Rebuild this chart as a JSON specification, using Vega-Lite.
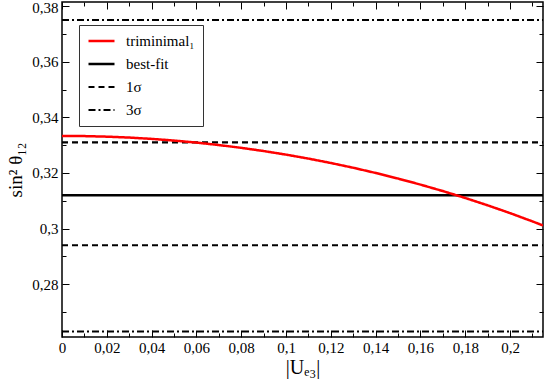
{
  "$schema": "https://vega.github.io/schema/vega-lite/v6.json",
  "width": 481,
  "height": 335,
  "autosize": {"type": "none"},
  "padding": {"left": 62, "top": 2, "right": 2, "bottom": 45},
  "background": "white",
  "config": {
    "font": "Liberation Serif",
    "view": {"stroke": "black", "strokeWidth": 1.5},
    "axis": {
      "grid": false,
      "domain": false,
      "tickColor": "black",
      "tickWidth": 1,
      "labelFont": "Liberation Serif",
      "labelFontSize": 15,
      "labelColor": "black",
      "titleFont": "Liberation Serif",
      "titleFontWeight": "normal",
      "titleColor": "black"
    }
  },
  "data": {
    "values": [
      {"series": "best-fit", "grp": "bf", "u": 0, "s": 0.312},
      {"series": "best-fit", "grp": "bf", "u": 0.2147, "s": 0.312},
      {"series": "1σ", "grp": "1a", "u": 0, "s": 0.331},
      {"series": "1σ", "grp": "1a", "u": 0.2147, "s": 0.331},
      {"series": "1σ", "grp": "1b", "u": 0, "s": 0.294},
      {"series": "1σ", "grp": "1b", "u": 0.2147, "s": 0.294},
      {"series": "3σ", "grp": "3a", "u": 0, "s": 0.375},
      {"series": "3σ", "grp": "3a", "u": 0.2147, "s": 0.375},
      {"series": "3σ", "grp": "3b", "u": 0, "s": 0.263},
      {"series": "3σ", "grp": "3b", "u": 0.2147, "s": 0.263},
      {"series": "triminimal₁", "grp": "t", "u": 0, "s": 0.33333},
      {"series": "triminimal₁", "grp": "t", "u": 0.01, "s": 0.333267},
      {"series": "triminimal₁", "grp": "t", "u": 0.02, "s": 0.333067},
      {"series": "triminimal₁", "grp": "t", "u": 0.03, "s": 0.332733},
      {"series": "triminimal₁", "grp": "t", "u": 0.04, "s": 0.332265},
      {"series": "triminimal₁", "grp": "t", "u": 0.05, "s": 0.331662},
      {"series": "triminimal₁", "grp": "t", "u": 0.06, "s": 0.330925},
      {"series": "triminimal₁", "grp": "t", "u": 0.07, "s": 0.33005},
      {"series": "triminimal₁", "grp": "t", "u": 0.08, "s": 0.329039},
      {"series": "triminimal₁", "grp": "t", "u": 0.09, "s": 0.327889},
      {"series": "triminimal₁", "grp": "t", "u": 0.1, "s": 0.326599},
      {"series": "triminimal₁", "grp": "t", "u": 0.11, "s": 0.325168},
      {"series": "triminimal₁", "grp": "t", "u": 0.12, "s": 0.323593},
      {"series": "triminimal₁", "grp": "t", "u": 0.13, "s": 0.321873},
      {"series": "triminimal₁", "grp": "t", "u": 0.14, "s": 0.320005},
      {"series": "triminimal₁", "grp": "t", "u": 0.15, "s": 0.317988},
      {"series": "triminimal₁", "grp": "t", "u": 0.16, "s": 0.315818},
      {"series": "triminimal₁", "grp": "t", "u": 0.17, "s": 0.313493},
      {"series": "triminimal₁", "grp": "t", "u": 0.18, "s": 0.31101},
      {"series": "triminimal₁", "grp": "t", "u": 0.19, "s": 0.308365},
      {"series": "triminimal₁", "grp": "t", "u": 0.2, "s": 0.305556},
      {"series": "triminimal₁", "grp": "t", "u": 0.21, "s": 0.302577},
      {"series": "triminimal₁", "grp": "t", "u": 0.2147, "s": 0.301115}
    ]
  },
  "resolve": {"axis": {"x": "independent", "y": "independent"}},
  "layer": [
    {
      "mark": {"type": "line", "clip": true, "strokeCap": "butt"},
      "encoding": {
        "x": {
          "field": "u", "type": "quantitative",
          "scale": {"domain": [0, 0.2147], "nice": false, "zero": false},
          "axis": {
            "orient": "bottom",
            "values": [0, 0.02, 0.04, 0.06, 0.08, 0.1, 0.12, 0.14, 0.16, 0.18, 0.2],
            "tickSize": -7,
            "labelPadding": 10,
            "labelFlush": false,
            "labelFont": "Liberation Serif",
            "labelFontSize": 15,
            "labelExpr": "replace(format(datum.value, '.2~f'), '.', ',')",
            "title": "|Uₑ₃|",
            "titleFont": "Liberation Serif",
            "titleFontSize": 20,
            "titlePadding": 2
          }
        },
        "y": {
          "field": "s", "type": "quantitative",
          "scale": {"domain": [0.261, 0.3815], "nice": false, "zero": false},
          "axis": {
            "orient": "left",
            "values": [0.28, 0.3, 0.32, 0.34, 0.36, 0.38],
            "tickSize": -7,
            "labelPadding": 11,
            "labelFlush": 5,
            "labelFlushOffset": 6,
            "labelFont": "Liberation Serif",
            "labelFontSize": 15,
            "labelExpr": "replace(format(datum.value, '.2~f'), '.', ',')",
            "title": "sin² θ₁₂",
            "titleFont": "Liberation Serif",
            "titleFontSize": 19,
            "titlePadding": 6
          }
        },
        "detail": {"field": "grp"},
        "color": {
          "field": "series", "type": "nominal",
          "scale": {"domain": ["triminimal₁", "best-fit", "1σ", "3σ"], "range": ["#ff0000", "black", "black", "black"]},
          "legend": {
            "title": null,
            "orient": "none",
            "legendX": 17,
            "legendY": 23,
            "fillColor": "white",
            "strokeColor": "#333",
            "padding": 8,
            "symbolType": "stroke",
            "symbolSize": 676,
            "clipHeight": 16,
            "labelFont": "Liberation Serif",
            "labelFontSize": 15,
            "labelColor": "black",
            "labelOffset": 10,
            "rowPadding": 7,
            "labelLimit": 200
          }
        },
        "strokeDash": {
          "field": "series", "type": "nominal",
          "scale": {"domain": ["triminimal₁", "best-fit", "1σ", "3σ"], "range": [[1, 0], [1, 0], [6, 4], [7, 3, 2, 3]]}
        },
        "strokeWidth": {
          "field": "series", "type": "nominal",
          "scale": {"domain": ["triminimal₁", "best-fit", "1σ", "3σ"], "range": [2.5, 2, 1.5, 1.5]}
        }
      }
    },
    {
      "mark": {"type": "point", "opacity": 0},
      "encoding": {
        "x": {"field": "u", "type": "quantitative", "axis": {"orient": "bottom", "values": [0.01, 0.03, 0.05, 0.07, 0.09, 0.11, 0.13, 0.15, 0.17, 0.19, 0.21], "tickSize": -4, "labels": false, "title": null}},
        "y": {"field": "s", "type": "quantitative", "axis": {"orient": "left", "values": [0.27, 0.29, 0.31, 0.33, 0.35, 0.37], "tickSize": -4, "labels": false, "title": null}}
      }
    },
    {
      "mark": {"type": "point", "opacity": 0},
      "encoding": {
        "x": {"field": "u", "type": "quantitative", "axis": {"orient": "top", "values": [0, 0.02, 0.04, 0.06, 0.08, 0.1, 0.12, 0.14, 0.16, 0.18, 0.2], "tickSize": -7, "labels": false, "title": null}},
        "y": {"field": "s", "type": "quantitative", "axis": {"orient": "right", "values": [0.28, 0.3, 0.32, 0.34, 0.36, 0.38], "tickSize": -7, "labels": false, "title": null}}
      }
    },
    {
      "mark": {"type": "point", "opacity": 0},
      "encoding": {
        "x": {"field": "u", "type": "quantitative", "axis": {"orient": "top", "values": [0.01, 0.03, 0.05, 0.07, 0.09, 0.11, 0.13, 0.15, 0.17, 0.19, 0.21], "tickSize": -4, "labels": false, "title": null}},
        "y": {"field": "s", "type": "quantitative", "axis": {"orient": "right", "values": [0.27, 0.29, 0.31, 0.33, 0.35, 0.37], "tickSize": -4, "labels": false, "title": null}}
      }
    }
  ]
}
